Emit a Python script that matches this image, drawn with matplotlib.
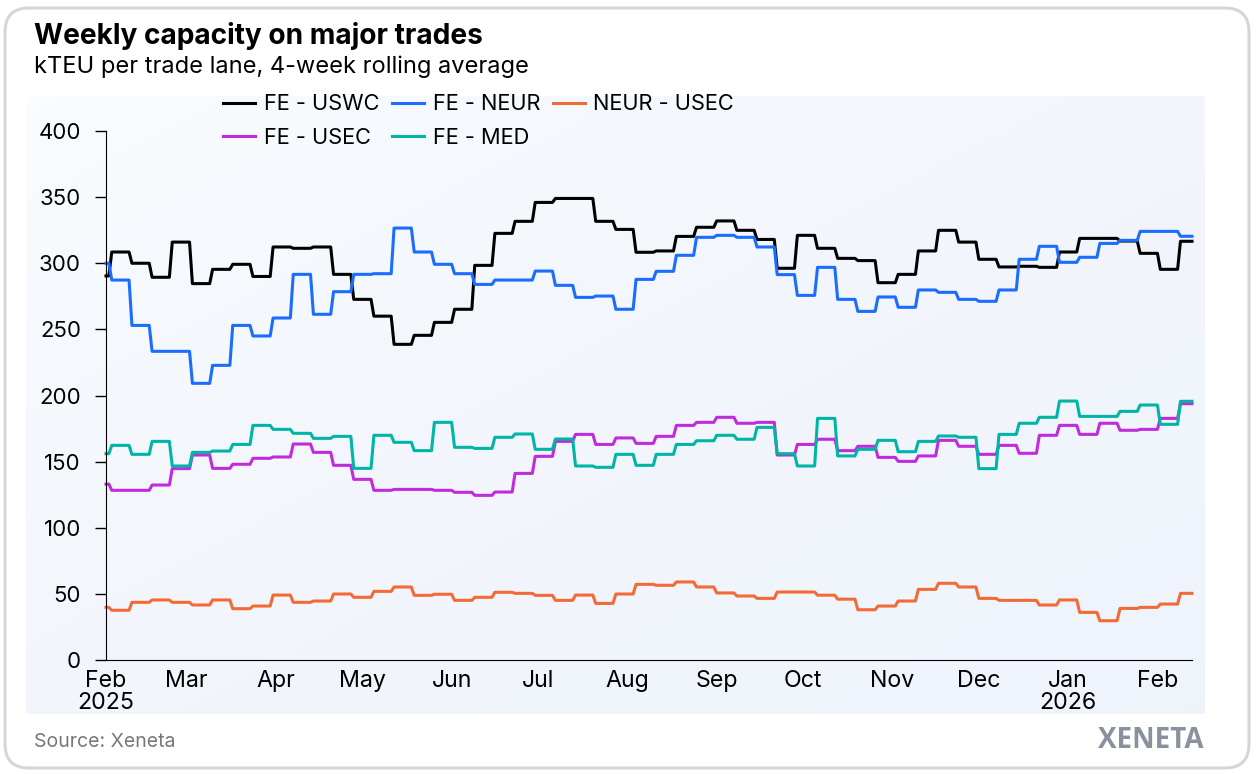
import matplotlib
matplotlib.use("Agg")
import matplotlib.pyplot as plt
import numpy as np
import pandas as pd
from matplotlib.patches import FancyBboxPatch

W, H = 1258, 774

# first value covers Feb 1-2, then one value per week starting on Mondays
fe_uswc = [290.4, 308.5, 300, 289.4, 316, 284.6, 295.4, 299.2, 290, 312.3, 311.3, 312.3, 291.6, 272.7, 260, 238.7,
           245.5, 255.3, 265.2, 298.4, 322.6, 331.7, 346, 349, 349, 331.7, 325.6, 308.3, 309.3, 320.3, 327.2, 332,
           324.9, 318, 296.2, 321.1, 311.3, 303.7, 302, 285.3, 291.6, 309.3, 324.9, 316, 303, 297.2, 297.7, 296.9,
           308.5, 318.8, 318.8, 316.8, 307.5, 295.4, 316.6]
fe_neur = [300, 287.3, 253, 233.4, 233.4, 209.2, 222.8, 253, 245, 258.6, 291.6, 261.4, 278.5, 291.6, 292.1, 326.6,
           308.5, 299.2, 292.1, 284, 287.3, 287.3, 294.1, 283.3, 274.2, 275.2, 265.2, 287.8, 293.9, 306, 319.6, 321.1,
           319.6, 312.3, 291.4, 275.7, 296.9, 272.7, 263.6, 274.5, 266.7, 279.8, 278, 272.7, 271.2, 279.8, 303, 312.8,
           300.7, 304.5, 315, 317.3, 324.1, 324.1, 320.4]
neur_usec = [39.8, 37.6, 43.6, 45.4, 43.6, 41.6, 45.4, 38.8, 40.8, 49.1, 43.6, 44.6, 49.9, 47.4, 51.9, 55.2,
             48.9, 49.7, 45.1, 47.4, 51.2, 50.4, 48.9, 45.1, 49.1, 42.8, 49.9, 57.2, 56.5, 59, 55.2, 50.7,
             48.4, 46.6, 51.4, 51.4, 49, 46, 38, 40.8, 44.6, 53.4, 58, 55.2, 46.6, 45.1, 45.1, 41.6,
             45.4, 36, 29.7, 39, 39.8, 42.3, 50.4]
fe_usec = [133, 128.3, 128.3, 132.3, 144.7, 155, 144.9, 148, 152.5, 153.5, 163.3, 157, 147.2, 136.6, 128.3, 129,
           129, 128.3, 126.8, 124.5, 127, 141.1, 154, 165.3, 170.6, 163, 167.9, 163.8, 169.1, 177.4, 179.7, 183.5,
           179, 179.7, 155, 163, 166.9, 158.3, 161.6, 153.2, 150.2, 154.3, 166.1, 161.6, 155.5, 162.3, 156.3, 169.9,
           177.4, 170.6, 179, 173.7, 174.4, 182.7, 193.8]
fe_med = [156, 162.3, 155.5, 165.3, 146.7, 157, 158, 163, 177.4, 174.4, 171.4, 167.6, 169.1, 144.9, 169.9, 164.6,
          158.3, 179.7, 160.8, 160, 168.4, 170.9, 159.3, 167.1, 146.7, 145.7, 155.5, 147.2, 155.5, 163, 165.8, 169.9,
          166.9, 175.9, 156, 146.7, 182.7, 154.3, 159.3, 166.1, 157.5, 165.3, 169.4, 168.4, 144.7, 170.6, 179, 183.5,
          195.8, 184.2, 184.2, 188, 192.8, 178.2, 195.6]

series_names = ["FE - USWC", "FE - NEUR", "NEUR - USEC", "FE - USEC", "FE - MED"]
series_values = [fe_uswc, fe_neur, neur_usec, fe_usec, fe_med]
series_colors = ["#000000", "#1a6dff", "#f26a35", "#c02bdc", "#00b5a6"]

days_per_value = [2] + [7] * 53 + [5]
dates = pd.date_range("2025-02-01", periods=sum(days_per_value), freq="D")

month_ticks = pd.date_range("2025-02-01", "2026-02-01", freq="MS")
month_labels = ["Feb\n2025", "Mar", "Apr", "May", "Jun", "Jul", "Aug", "Sep", "Oct", "Nov", "Dec", "Jan\n2026", "Feb"]
y_ticks = [0, 50, 100, 150, 200, 250, 300, 350, 400]

plt.rcParams["font.family"] = ["Inter", "DejaVu Sans"]

fig = plt.figure(figsize=(W / 100, H / 100), dpi=100, facecolor="white")

# card with grey rounded border
card_ax = fig.add_axes([0, 0, 1, 1], zorder=0)
card_ax.add_patch(FancyBboxPatch((5, 8), 1244, 760, boxstyle="round,pad=0,rounding_size=24",
                                 facecolor="white", edgecolor="#d6d6d6", linewidth=2.2))

# pale diagonal gradient behind the plot
gx, gy = np.meshgrid(np.linspace(0, 1, 300), np.linspace(0, 1, 160))
g = np.sqrt((gx + gy) / 2)[..., None]
top_color = np.array([0.985, 0.997, 1.0])
low_color = np.array([0.937, 0.953, 0.984])
card_ax.imshow(top_color + (low_color - top_color) * g, extent=(26, 1205, 714, 96), aspect="auto", zorder=1)
card_ax.set_xlim(0, W)
card_ax.set_ylim(H, 0)
card_ax.axis("off")

ax = fig.add_axes([106 / W, 1 - 660 / H, (1192 - 106) / W, (660 - 131) / H], zorder=2)
ax.patch.set_alpha(0)

handles = []
for name, values, color in zip(series_names, series_values, series_colors):
    daily = np.repeat(values, days_per_value)
    line, = ax.plot(dates, daily, color=color, linewidth=2.2, label=name, clip_on=False)
    handles.append(line)

ax.set_xlim(dates[0], dates[-1])
ax.set_ylim(0, 400)
ax.set_yticks(y_ticks)
ax.set_xticks(month_ticks)
ax.set_xticklabels(month_labels, linespacing=1.0)
ax.tick_params(axis="y", length=8, width=1, pad=10, labelsize=16)
ax.tick_params(axis="x", length=0, pad=7, labelsize=16.7)
ax.spines["top"].set_visible(False)
ax.spines["right"].set_visible(False)

order = [0, 3, 1, 4, 2]
fig.legend([handles[i] for i in order], [series_names[i] for i in order], ncol=3, frameon=False,
           loc="upper left", bbox_to_anchor=(208 / W, 1 - 79 / H), fontsize=15.7, handlelength=1.45,
           handletextpad=0.4, columnspacing=0.6, labelspacing=0.62, borderpad=0.2)

fig.text(34 / W, 1 - 36 / H, "Weekly capacity on major trades", fontsize=20.2, fontweight="bold", va="center")
fig.text(34 / W, 1 - 67 / H, "kTEU per trade lane, 4-week rolling average", fontsize=17, va="center")
fig.text(34 / W, 1 - 742 / H, "Source: Xeneta", fontsize=14, color="#777777", va="center")
fig.text(1203 / W, 1 - 740 / H, "XENETA", fontsize=20, fontweight="bold", color="#8a909e", family="Open Sans",
         ha="right", va="center")

fig.savefig("out.png", dpi=100)
plt.close(fig)
